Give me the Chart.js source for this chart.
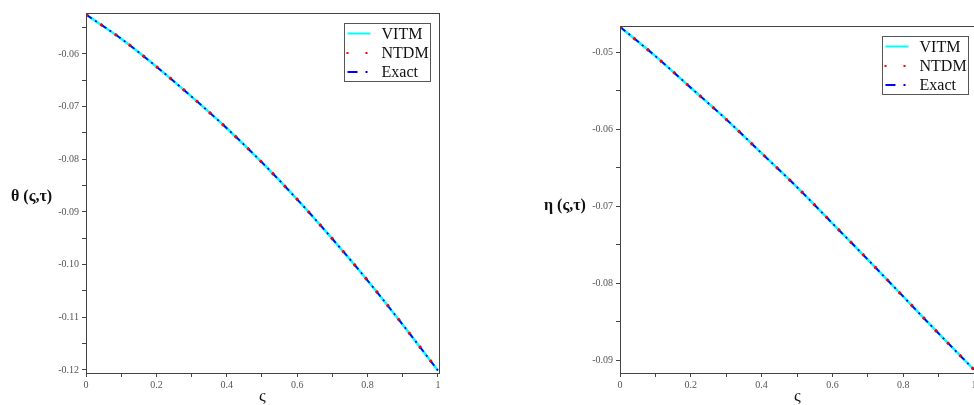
<!DOCTYPE html>
<html>
<head>
<meta charset="utf-8">
<script src="https://cdn.jsdelivr.net/npm/chart.js@4.4.1/dist/chart.umd.min.js"></script>
<style>
  html, body { margin: 0; padding: 0; background: #fff; }
  body { width: 974px; height: 405px; position: relative; overflow: hidden; }
  .panel { position: absolute; top: 0; height: 405px; width: 460px; }
  .lbl { position: absolute; font-family: "Liberation Serif", serif; color: #111; white-space: nowrap; }
  .ylbl { font-weight: bold; font-size: 16px; }
  .xlbl { font-size: 17px; }
</style>
</head>
<body>
<div class="panel" style="left:0"><canvas id="left"></canvas></div>
<div class="panel" style="left:540px"><canvas id="right"></canvas></div>
<div class="lbl ylbl" style="left:11px; top:187px">θ (ς,τ)</div>
<div class="lbl ylbl" style="left:544px; top:196px">η (ς,τ)</div>
<div class="lbl xlbl" style="left:259px; top:386px">ς</div>
<div class="lbl xlbl" style="left:794px; top:386px">ς</div>
<script>
// ξ grid (x axis)
const xi = [0, 0.1, 0.2, 0.3, 0.4, 0.5, 0.6, 0.7, 0.8, 0.9, 1.0];
// θ(ς,τ) -- VITM, NTDM and Exact lie on top of each other
const thetaVals = [-0.0525, -0.0571, -0.0624, -0.0681, -0.0741, -0.0806, -0.0876, -0.0951, -0.1030, -0.1114, -0.1201];
// η(ς,τ)
const etaVals = [-0.0467, -0.0505, -0.0546, -0.0587, -0.0631, -0.0675, -0.0722, -0.0769, -0.0817, -0.0865, -0.0912];
const seriesNames = ["VITM", "NTDM", "Exact"];

const AXIS = "#444";
const TICK_TXT = "#555";

function pts(vals) {
  return xi.map((x, i) => ({ x: x, y: vals[i] }));
}

function makeDatasets(vals) {
  return [
    { label: seriesNames[0], data: pts(vals), borderColor: "#00ffff", borderWidth: 2.5, order: 3 },
    { label: seriesNames[1], data: pts(vals), borderColor: "#ff0000", borderWidth: 3, borderDash: [2.5, 15], order: 1 },
    { label: seriesNames[2], data: pts(vals), borderColor: "#0000ff", borderWidth: 1.8, borderDash: [7, 4, 2, 4.5], order: 2 },
  ];
}

// frame + boxed legend like the original plot
const framePlugin = {
  id: "frame",
  afterDraw(chart, args, opts) {
    const { ctx, chartArea: a } = chart;
    ctx.save();
    ctx.strokeStyle = AXIS;
    ctx.lineWidth = 1;
    ctx.strokeRect(a.left + 0.5, a.top + 0.5, a.right - a.left, a.bottom - a.top);

    // legend
    const w = 86, h = 58;
    const x = Math.round(a.right - opts.legendRight - w) + 0.5;
    const y = Math.round(a.top + 10) + 0.5;
    ctx.fillStyle = "#fff";
    ctx.fillRect(x, y, w, h);
    ctx.strokeStyle = "#555";
    ctx.strokeRect(x, y, w, h);

    const rows = [y + 10, y + 29.5, y + 48.5];
    // VITM
    ctx.strokeStyle = "#00ffff";
    ctx.lineWidth = 2;
    ctx.beginPath(); ctx.moveTo(x + 3, rows[0]); ctx.lineTo(x + 26, rows[0]); ctx.stroke();
    // NTDM
    ctx.fillStyle = "#ff0000";
    ctx.fillRect(x + 2, rows[1] - 1, 2, 2);
    ctx.fillRect(x + 21, rows[1] - 1, 2, 2);
    // Exact
    ctx.strokeStyle = "#0000ff";
    ctx.beginPath(); ctx.moveTo(x + 3, rows[2]); ctx.lineTo(x + 13, rows[2]); ctx.stroke();
    ctx.fillStyle = "#0000ff";
    ctx.fillRect(x + 21, rows[2] - 1, 2, 2);

    ctx.fillStyle = "#111";
    ctx.font = "16px 'Liberation Serif', serif";
    ctx.textBaseline = "middle";
    seriesNames.forEach((n, i) => ctx.fillText(n, x + 37, rows[i] + 1));
    ctx.restore();
  }
};

function makeChart(id, vals, cfg) {
  return new Chart(document.getElementById(id), {
    type: "line",
    data: { datasets: makeDatasets(vals) },
    plugins: [framePlugin],
    options: {
      responsive: true,
      maintainAspectRatio: false,
      animation: false,
      devicePixelRatio: 1,
      layout: { padding: { left: 0, top: cfg.top, right: cfg.right, bottom: 0 } },
      elements: {
        point: { radius: 0 },
        line: { cubicInterpolationMode: "monotone", fill: false }
      },
      plugins: {
        legend: { display: false },
        tooltip: { enabled: false },
        frame: { legendRight: cfg.legendRight }
      },
      scales: {
        x: {
          type: "linear",
          min: 0,
          max: cfg.xMax,
          afterFit: (s) => { s.height = 32; },
          border: { color: AXIS, width: 1 },
          grid: { drawOnChartArea: false, drawTicks: true, tickLength: 4, color: AXIS },
          ticks: {
            stepSize: 0.1,
            includeBounds: false,
            autoSkip: false,
            maxRotation: 0,
            padding: 2,
            color: TICK_TXT,
            font: { family: "'Liberation Serif', serif", size: 10 },
            callback: (v) => {
              const k = Math.round(v * 10);
              if (k % 2 !== 0) return "";
              return k === 0 ? "0" : (k === 10 ? "1" : (k / 10).toFixed(1));
            }
          }
        },
        y: {
          type: "linear",
          min: cfg.yMin,
          max: cfg.yMax,
          afterFit: (s) => { s.width = cfg.yWidth; },
          border: { color: AXIS, width: 1 },
          grid: { drawOnChartArea: false, drawTicks: true, tickLength: 4, color: AXIS },
          ticks: {
            stepSize: 0.005,
            includeBounds: false,
            autoSkip: false,
            padding: 3,
            color: TICK_TXT,
            font: { family: "'Liberation Serif', serif", size: 10 },
            callback: (v) => {
              const k = Math.round(v * 200);
              return k % 2 === 0 ? (k / 200).toFixed(2) : "";
            }
          }
        }
      }
    }
  });
}

makeChart("left", thetaVals, {
  top: 13, right: 21, yWidth: 86, xMax: 1.003,
  yMin: -0.12057, yMax: -0.05222, legendRight: 9
});
makeChart("right", etaVals, {
  top: 26, right: 26, yWidth: 80, xMax: 1.0,
  yMin: -0.09163, yMax: -0.04659, legendRight: 6
});
</script>
</body>
</html>
